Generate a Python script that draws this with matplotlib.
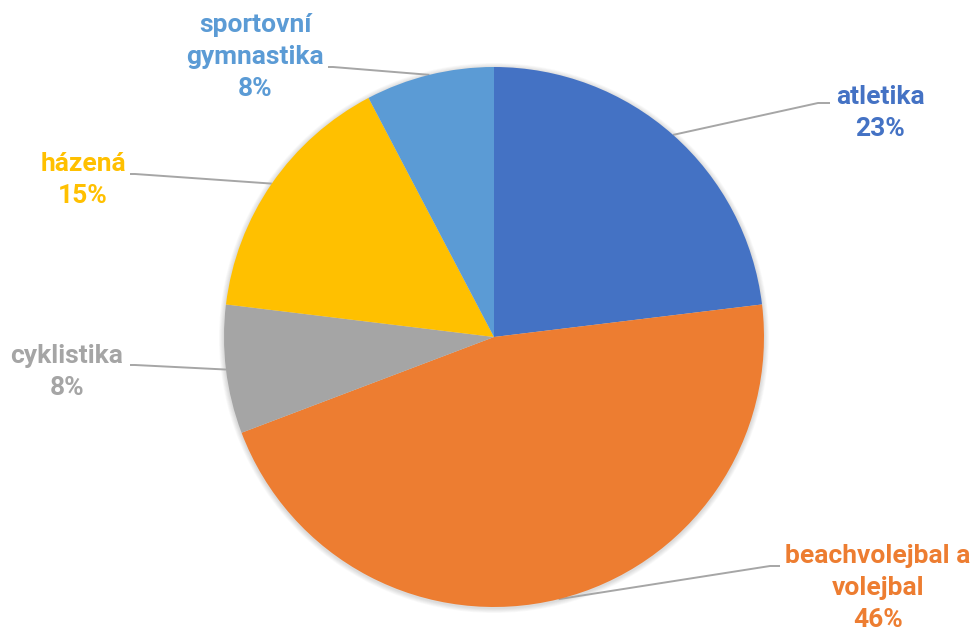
import numpy as np
import matplotlib
matplotlib.use("Agg")
import matplotlib.pyplot as plt
from matplotlib.patches import Circle

categories = ["atletika", "beachvolejbal a\nvolejbal", "cyklistika", "házená", "sportovní\ngymnastika"]
values = [3, 6, 1, 2, 1]
colors = ["#4472C4", "#ED7D31", "#A5A5A5", "#FFC000", "#5B9BD5"]

W, H = 975, 632
fig = plt.figure(figsize=(W / 100, H / 100), dpi=100)
ax = fig.add_axes([0, 0, 1, 1])

cx, cy, R = 494, H - 337, 270

# soft shadow behind the pie
for i in range(6):
    ax.add_patch(Circle((cx, cy - 1), R + 1 + i * 0.8, facecolor="black",
                        edgecolor="none", alpha=0.025, zorder=0))

wedges, _ = ax.pie(values, colors=colors, startangle=90, counterclock=False,
                   center=(cx, cy), radius=R, frame=True,
                   wedgeprops=dict(linewidth=0, zorder=2))
ax.set_xlim(0, W)
ax.set_ylim(0, H)
ax.set_aspect("equal")
ax.axis("off")

# label layout (pixel positions, y from top): text center, line end, elbow
label_pos = [
    (880, 113, 830, 103, 818),
    (878, 588, 780, 566, 770),
    (67, 372, 130, 365, 135),
    (83, 180, 130, 174, 135),
    (255, 57, 328, 67, 333),
]

total = sum(values)
for w, cat, v, col, (tx, ty, lx, ly, ex) in zip(wedges, categories, values, colors, label_pos):
    mid = np.deg2rad((w.theta1 + w.theta2) / 2)
    px, py = cx + R * np.cos(mid), cy + R * np.sin(mid)
    ax.plot([px, ex, lx], [py, H - ly, H - ly], color="#A6A6A6", lw=1.4,
            solid_capstyle="butt", zorder=1)
    pct = f"{round(100 * v / total)}%"
    ax.text(tx, H - ty, f"{cat}\n{pct}", ha="center", va="center", color=col,
            fontsize=19, fontweight="bold", family="Roboto", linespacing=1.4)

fig.savefig("out.png", dpi=100)
